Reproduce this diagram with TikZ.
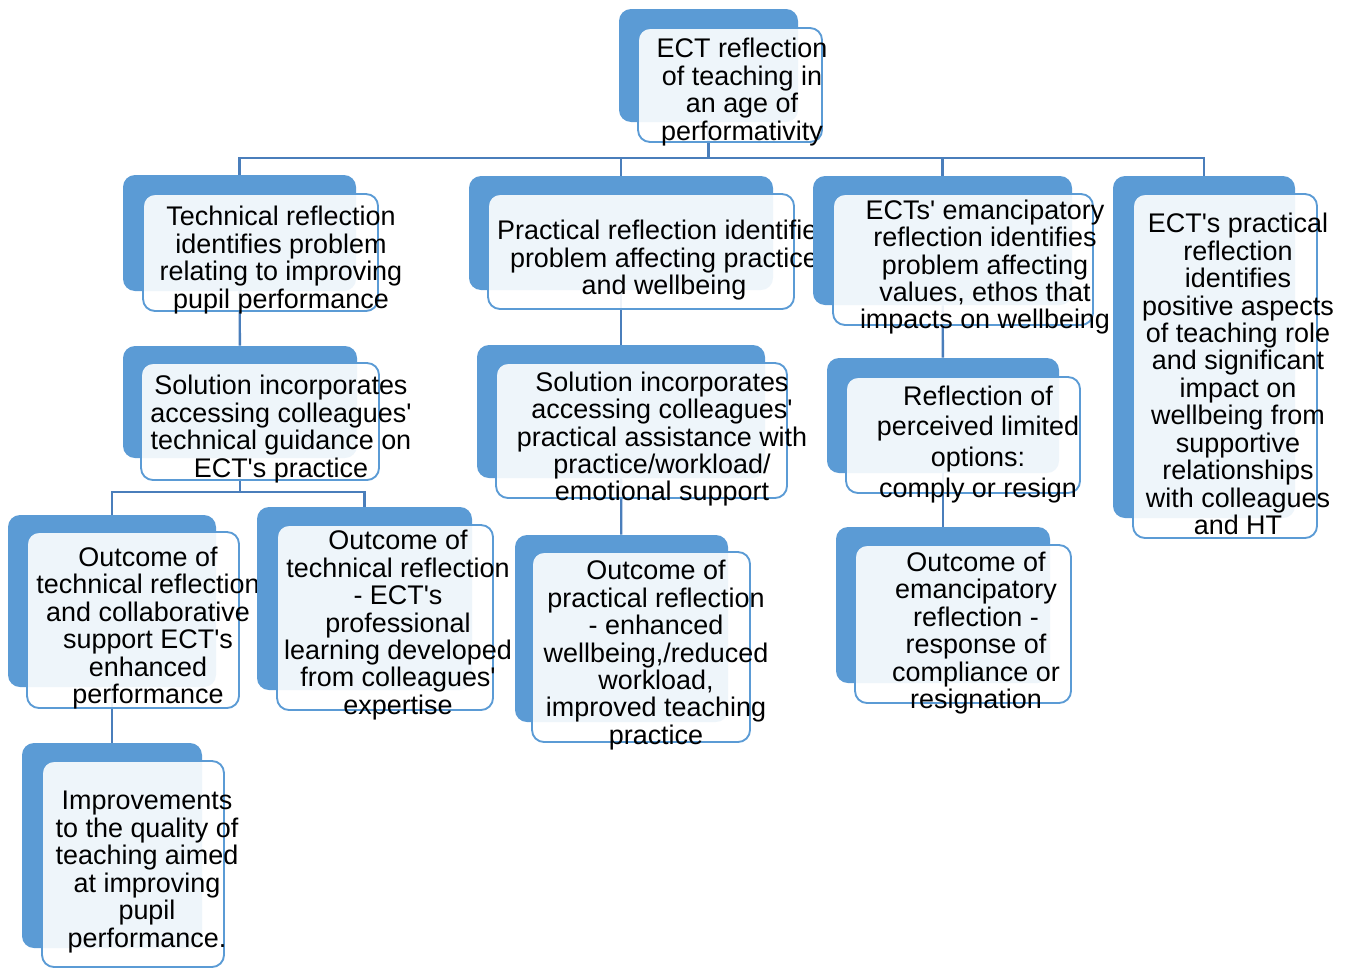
\documentclass[tikz,border=0pt]{standalone}
\usepackage{fontspec}
\newfontfamily\boxfont{Liberation Sans}
\usetikzlibrary{fit,backgrounds}
\definecolor{ectblue}{HTML}{5B9BD5}
\definecolor{ectline}{HTML}{4A7EBB}

% back box, front box and text of one entry
\newcommand{\ectbox}[7][]{%
  \node[back, fit={#3}] (b_#2) {};
  \node[front, fit={#4}] (f_#2) {};
  \begin{scope}
    \clip (0,0) rectangle (#7,967);
    \node[txt,#1] (n_#2) at (#5) {#6};
  \end{scope}}

\begin{document}
\begin{tikzpicture}[x=0.75pt,y=-0.75pt,
    back/.style={rounded corners=9pt,fill=ectblue,inner sep=0pt},
    front/.style={rounded corners=9pt,draw=ectblue,line width=1.4pt,fill=white,fill opacity=0.9,inner sep=0pt},
    txt/.style={align=center,inner sep=0pt,yshift=-2.3pt,font=\fontsize{20.2}{20.6}\boxfont},
    link/.style={draw=ectline,line width=1.8pt}]
   \useasboundingbox (0,0) rectangle (1351,967);
   \ectbox{0}{(619,9) (798,122)}{(638,28) (822,142)}{742,89}
     {ECT reflection\\of teaching in\\an age of\\performativity}{1351}
   \ectbox{1}{(123,175) (356,291)}{(143,194) (378,311)}{281,257}
     {Technical reflection\\identifies problem\\relating to improving\\pupil performance}{1351}
   \ectbox{2}{(469,176) (773,290)}{(488,194) (794,309)}{664,257}
     {Practical reflection identifies\\problem affecting practice\\and wellbeing}{820}
   \ectbox{3}{(813,176) (1072,305)}{(833,194) (1093,325)}{985,264}
     {ECTs' emancipatory\\reflection identifies\\problem affecting\\values, ethos that\\impacts on wellbeing}{1351}
   \ectbox{4}{(1113,176) (1295,518)}{(1133,194) (1317,538)}{1238,371}
     {ECT's practical\\reflection\\identifies\\positive aspects\\of teaching role\\and significant\\impact on\\wellbeing from\\supportive\\relationships\\with colleagues\\and HT}{1351}
   \ectbox{5}{(123,346) (357,458)}{(141,363) (379,480)}{281,426}
     {Solution incorporates\\accessing colleagues'\\technical guidance on\\ECT's practice}{1351}
   \ectbox{6}{(477,345) (765,478)}{(496,363) (787,498)}{662,436}
     {Solution incorporates\\accessing colleagues'\\practical assistance with\\practice/workload/\\emotional support}{1351}
   \ectbox[font=\fontsize{20.2}{23}\boxfont]{7}{(827,358) (1059,473)}{(846,377) (1080,493)}{978,441}
     {Reflection of\\perceived limited\\options:\\comply or resign}{1351}
   \ectbox{8}{(8,515) (216,687)}{(27,532) (239,708)}{148,625}
     {Outcome of\\technical reflection\\and collaborative\\support ECT's\\enhanced\\performance}{258}
   \ectbox{9}{(257,507) (472,690)}{(277,525) (493,710)}{398,622}
     {Outcome of\\technical reflection\\- ECT's\\professional\\learning developed\\from colleagues'\\expertise}{512}
   \ectbox{10}{(515,535) (728,722)}{(532,552) (750,742)}{656,652}
     {Outcome of\\practical reflection\\- enhanced\\wellbeing,/reduced\\workload,\\improved teaching\\practice}{1351}
   \ectbox{11}{(836,527) (1050,683)}{(855,545) (1071,703)}{976,630}
     {Outcome of\\emancipatory\\reflection -\\response of\\compliance or\\resignation}{1351}
   \ectbox{12}{(22,743) (202,948)}{(42,761) (224,967)}{147,869}
     {Improvements\\to the quality of\\teaching aimed\\at improving\\pupil\\performance.}{1351}
   \coordinate (bus_0) at (0,158);
   \coordinate (bus_1) at (0,492);
   \begin{scope}[on background layer]
    \foreach \c in {1,...,4}
      \draw[link] (b_0.center) -- (b_0.center |- bus_0) -| (b_\c.center);
    \foreach \c in {8,9}
      \draw[link] (b_5.center) -- (b_5.center |- bus_1) -| (b_\c.center);
    \draw[link] (b_1) -- (b_5);
    \draw[link] (b_8) -- (b_12);
    \draw[link] (b_2) -- (b_6);
    \draw[link] (b_6) -- (b_10);
    \draw[link] (b_3) -- (b_7);
    \draw[link] (b_7) -- (b_11);
   \end{scope}
\end{tikzpicture}
\end{document}
